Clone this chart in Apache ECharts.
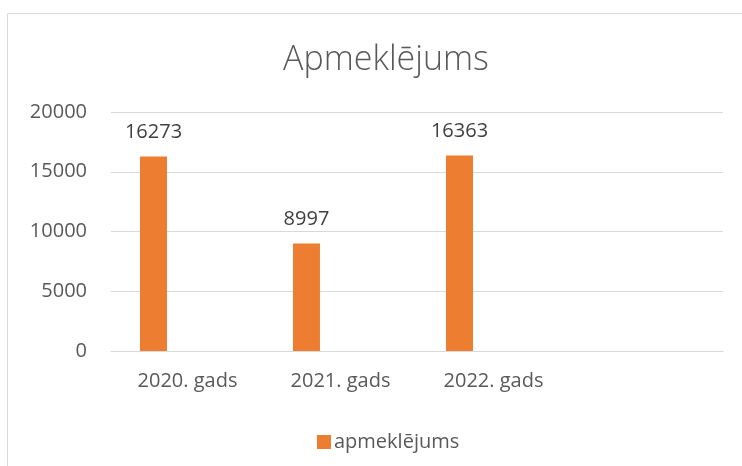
<!DOCTYPE html>
<html>
<head>
<meta charset="utf-8">
<script src="https://cdn.jsdelivr.net/npm/echarts@6/dist/echarts.min.js"></script>
<style>
  html, body { margin: 0; padding: 0; background: #fff; }
  #chart { width: 742px; height: 466px; }
</style>
</head>
<body>
<div id="chart"></div>
<script>
// gadi (ceturtā kategorija tukša, kā oriģinālā)
const categories = ['2020. gads', '2021. gads', '2022. gads', '']
const visits = [16273, 8997, 16363, null]
const yTicks = { min: 0, max: 20000, interval: 5000 }

const font = '"Open Sans", "Noto Sans", sans-serif'

let myChart = echarts.init(document.getElementById('chart'))
myChart.setOption({
  animation: false,
  graphic: [
    {
      type: 'rect',
      shape: { x: 7.5, y: 13.5, width: 780, height: 500 },
      style: { fill: 'none', stroke: '#d9d9d9', lineWidth: 1 },
      silent: true
    }
  ],
  title: {
    text: 'Apmeklējums',
    left: 381,
    textAlign: 'center',
    top: 38,
    textStyle: {
      color: '#595959',
      fontFamily: font,
      fontWeight: 300,
      fontSize: 34
    }
  },
  legend: {
    data: ['apmeklējums'],
    left: 312,
    top: 427,
    itemWidth: 14,
    itemHeight: 14,
    itemGap: 10,
    icon: 'rect',
    textStyle: {
      color: '#595959',
      fontFamily: font,
      fontSize: 20,
      padding: [0, 0, 0, -2]
    }
  },
  grid: {
    left: 111,
    right: 19,
    top: 112,
    bottom: 115
  },
  xAxis: {
    type: 'category',
    data: categories,
    axisLine: { lineStyle: { color: '#d9d9d9' } },
    axisTick: { show: false },
    axisLabel: {
      color: '#595959',
      fontFamily: font,
      fontSize: 20,
      margin: 20,
      interval: 0
    }
  },
  yAxis: {
    type: 'value',
    min: yTicks.min,
    max: yTicks.max,
    interval: yTicks.interval,
    axisLine: { show: false },
    axisTick: { show: false },
    splitLine: { lineStyle: { color: '#d9d9d9', width: 1 } },
    axisLabel: {
      color: '#595959',
      fontFamily: font,
      fontSize: 20,
      margin: 24,
      formatter: v => String(v)
    }
  },
  series: [
    {
      name: 'apmeklējums',
      type: 'bar',
      data: visits,
      barWidth: 27,
      barGap: '152%',
      itemStyle: { color: '#ED7D31' },
      label: {
        show: true,
        position: 'top',
        distance: 14,
        color: '#404040',
        fontFamily: font,
        fontSize: 20
      }
    },
    {
      name: '',
      type: 'bar',
      data: [null, null, null, null],
      barWidth: 27
    }
  ]
})
</script>
</body>
</html>
